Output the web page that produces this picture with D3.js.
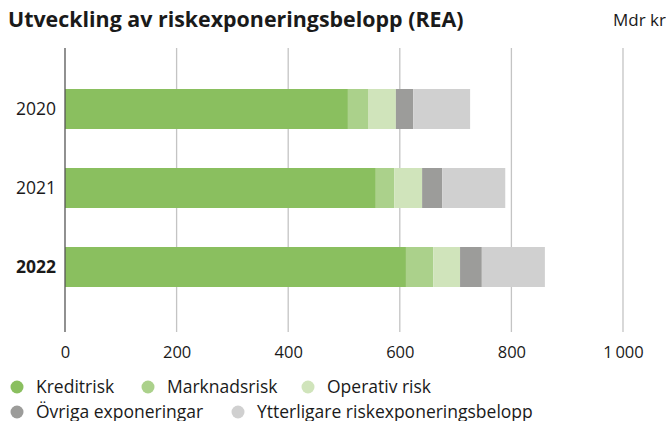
<!DOCTYPE html>
<html>
<head>
<meta charset="utf-8">
<script src="https://cdn.jsdelivr.net/npm/d3@7"></script>
<style>
  html, body { margin: 0; padding: 0; background: #fff; }
  svg { display: block; font-family: "Open Sans", Roboto, sans-serif; }
</style>
</head>
<body>
<svg id="chart" width="666" height="421"></svg>
<script>
// Riskexponeringsbelopp per år, Mdr kr
const years = ["2020", "2021", "2022"];
const seriesNames = ["Kreditrisk", "Marknadsrisk", "Operativ risk", "Övriga exponeringar", "Ytterligare riskexponeringsbelopp"];
const kreditrisk = [507, 557, 611];
const marknadsrisk = [36, 33, 49];
const operativRisk = [50, 50, 48];
const ovrigaExponeringar = [31, 36, 39];
const ytterligare = [102, 113, 113];
const xTicks = [0, 200, 400, 600, 800, 1000];
const colors = ["#8abf5f", "#abd18b", "#d0e4bb", "#9c9c9a", "#d0d0d0"];

const seriesValues = [kreditrisk, marknadsrisk, operativRisk, ovrigaExponeringar, ytterligare];
const rows = years.map((yr, i) => {
  const r = { year: yr };
  seriesNames.forEach((s, j) => { r[s] = seriesValues[j][i]; });
  return r;
});

const svg = d3.select("#chart");
const plotLeft = 65, plotRight = 623, plotTop = 48, plotBottom = 332;
const ink = "#1a1a1a";

const x = d3.scaleLinear().domain([0, 1000]).range([plotLeft, plotRight]);
const y = d3.scaleBand().domain(years).range([69.25, 306.75])
  .paddingInner(39 / 79).paddingOuter(0.25);

// Title and unit
svg.append("text").attr("x", 8).attr("y", 26.5)
  .attr("font-size", 21.4).attr("font-weight", 700).attr("fill", ink)
  .text("Utveckling av riskexponeringsbelopp (REA)");
svg.append("text").attr("x", 613).attr("y", 25.5)
  .attr("font-size", 17).attr("fill", ink)
  .text("Mdr kr");

// Gridlines
svg.append("g").selectAll("line").data(xTicks.filter(d => d > 0)).join("line")
  .attr("x1", d => x(d)).attr("x2", d => x(d))
  .attr("y1", plotTop).attr("y2", plotBottom)
  .attr("stroke", "#c4c4c4").attr("stroke-width", 1.3);

// Stacked bars
const stack = d3.stack().keys(seriesNames)(rows);
svg.append("g").selectAll("g").data(stack).join("g")
  .attr("fill", (d, i) => colors[i])
  .selectAll("rect").data(d => d).join("rect")
  .attr("x", d => x(d[0]))
  .attr("width", d => x(d[1]) - x(d[0]))
  .attr("y", d => y(d.data.year))
  .attr("height", y.bandwidth());

// Value axis labels
const xAxis = d3.axisBottom(x).tickValues(xTicks).tickSize(0).tickPadding(0)
  .tickFormat(d => d3.format(",")(d).replace(",", "\u2009"));
const gx = svg.append("g").attr("transform", `translate(0, ${plotBottom + 26})`).call(xAxis);
gx.select(".domain").remove();
gx.selectAll("text").attr("font-size", 16.5).attr("fill", ink)
  .attr("font-family", "'Open Sans', sans-serif").attr("dy", 0);

// Category axis line and labels
svg.append("line").attr("x1", plotLeft).attr("x2", plotLeft).attr("y1", plotTop).attr("y2", plotBottom)
  .attr("stroke", "#555").attr("stroke-width", 1.3);
svg.append("g").selectAll("text").data(years).join("text")
  .attr("x", 56).attr("y", d => y(d) + y.bandwidth() / 2)
  .attr("dy", "0.35em").attr("text-anchor", "end")
  .attr("font-size", 17.5).attr("fill", ink)
  .attr("font-weight", d => d === "2022" ? 700 : 400)
  .text(d => d);

// Legend
const legendPos = [[17, 387], [148, 387], [308, 387], [17, 412], [238, 412]];
const lg = svg.append("g").selectAll("g").data(seriesNames).join("g")
  .attr("transform", (d, i) => `translate(${legendPos[i][0]}, ${legendPos[i][1]})`);
lg.append("circle").attr("r", 6.5).attr("fill", (d, i) => colors[i]);
lg.append("text").attr("x", 19).attr("dy", "0.35em")
  .attr("font-size", 17.5).attr("fill", ink).text(d => d);
</script>
</body>
</html>
